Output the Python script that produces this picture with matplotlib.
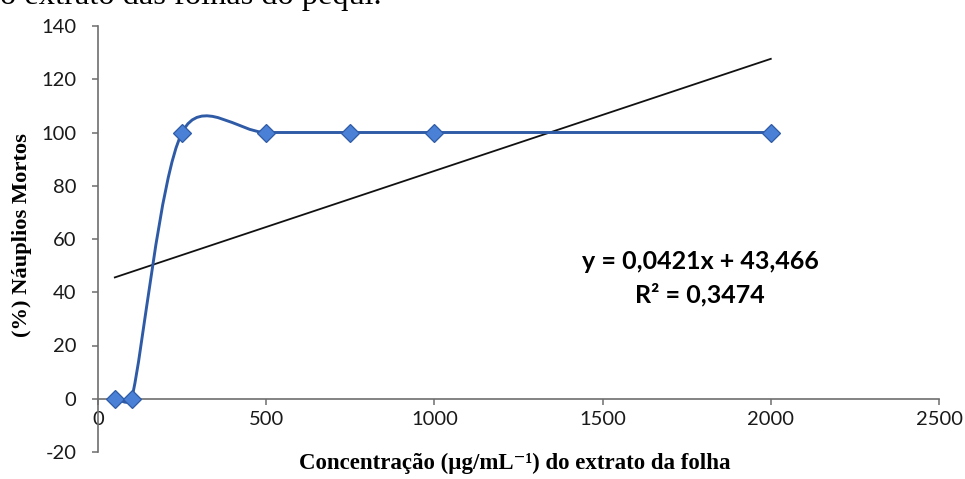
import matplotlib

matplotlib.use("Agg")
import matplotlib.pyplot as plt
import numpy as np
from matplotlib.path import Path
from matplotlib.patches import PathPatch

plt.rcParams["axes.unicode_minus"] = False

# ---------------------------------------------------------------------------
# Data
# ---------------------------------------------------------------------------
conc = [50, 100, 250, 500, 750, 1000, 2000]
mortos = [0, 0, 100, 100, 100, 100, 100]

slope = 0.0421
intercept = 43.466
eq_text = "y = 0,0421x + 43,466"
r2_text = "R² = 0,3474"

xticks = [0, 500, 1000, 1500, 2000, 2500]
yticks = [-20, 0, 20, 40, 60, 80, 100, 120, 140]

BLUE_LINE = "#2f5ba6"
BLUE_FILL = "#4a80d6"
AXIS_GRAY = "#6e6e6e"

# axes box in pixels (965 x 479 canvas)
AX_L, AX_R, AX_T, AX_B = 98, 939, 26, 452
XLIM = (0, 2500)
YLIM = (-20, 140)


def smooth_path(xs, ys, sx, sy):
    """Excel-like smoothed line: cubic Bezier through the points.

    Control arms are computed in screen units (sx, sy px per data unit)
    and clamped to half the segment length, then mapped back to data.
    """
    pts = np.column_stack([np.asarray(xs) * sx, np.asarray(ys) * sy]).astype(float)
    ext = np.vstack([pts[0], pts, pts[-1]])
    verts = [tuple(pts[0])]
    codes = [Path.MOVETO]
    for i in range(1, len(ext) - 2):
        p0, p1, p2, p3 = ext[i - 1], ext[i], ext[i + 1], ext[i + 2]
        seg = np.hypot(*(p2 - p1))
        a1 = (p2 - p0) / 6.0
        a2 = (p3 - p1) / 6.0
        for a in (a1, a2):
            n = np.hypot(*a)
            if n > 0.5 * seg:
                a *= 0.5 * seg / n
        verts += [tuple(p1 + a1), tuple(p2 - a2), tuple(p2)]
        codes += [Path.CURVE4] * 3
    verts = [(vx / sx, vy / sy) for vx, vy in verts]
    return Path(verts, codes)


fig = plt.figure(figsize=(9.65, 4.79), dpi=100)
ax = fig.add_axes([AX_L / 965, (479 - AX_B) / 479,
                   (AX_R - AX_L) / 965, (AX_B - AX_T) / 479])

sx = (AX_R - AX_L) / (XLIM[1] - XLIM[0])
sy = (AX_B - AX_T) / (YLIM[1] - YLIM[0])

# Trendline
tx = np.array([conc[0], conc[-1]], dtype=float)
ax.plot(tx, slope * tx + intercept, color="#111111", linewidth=1.3, zorder=2)

# Smoothed series + markers
ax.add_patch(PathPatch(smooth_path(conc, mortos, sx, sy), facecolor="none",
                       edgecolor=BLUE_LINE, linewidth=2.1, zorder=3))
ax.plot(conc, mortos, linestyle="none", marker="D", markersize=9.5,
        markerfacecolor=BLUE_FILL, markeredgecolor=BLUE_LINE,
        markeredgewidth=0.9, zorder=4)

ax.set_xlim(*XLIM)
ax.set_ylim(*YLIM)
ax.set_xticks(xticks)
ax.set_yticks(yticks)

for side in ("top", "right"):
    ax.spines[side].set_visible(False)
ax.spines["bottom"].set_position(("data", 0))
for side in ("left", "bottom"):
    ax.spines[side].set_color(AXIS_GRAY)
    ax.spines[side].set_linewidth(1.2)

ax.tick_params(axis="both", direction="out", length=4.5, width=1.1,
               color=AXIS_GRAY, labelsize=14.5, labelcolor="#1a1a1a")
ax.tick_params(axis="y", pad=11)
ax.tick_params(axis="x", pad=4)
for lbl in ax.get_xticklabels() + ax.get_yticklabels():
    lbl.set_family(["Lato", "DejaVu Sans"])

# Axis titles
fig.text(22 / 965, 1 - 235 / 479, "(%) Náuplios Mortos", rotation=90,
         ha="center", va="center", fontsize=16.2, fontweight="bold",
         family=["Liberation Serif", "DejaVu Serif"])
fig.text(515 / 965, 1 - 463 / 479, "Concentração (µg/mL⁻¹) do extrato da folha",
         ha="center", va="center", fontsize=16.5, fontweight="bold",
         family=["Liberation Serif", "DejaVu Serif"])

# Equation
ax.text(1790, (399 - 262) / 2.664, eq_text, ha="center", va="center",
        fontsize=18, fontweight="bold", family=["Lato", "DejaVu Sans"])
ax.text(1790, (399 - 295) / 2.664, r2_text, ha="center", va="center",
        fontsize=18, fontweight="bold", family=["Lato", "DejaVu Sans"])

# Cut-off caption fragment at the top
fig.text(0.0, 1 - 4 / 479, "o extrato das folhas do pequi.", ha="left",
         va="baseline", fontsize=23.3, family=["Liberation Serif", "DejaVu Serif"])

fig.savefig("out.png", dpi=100)
